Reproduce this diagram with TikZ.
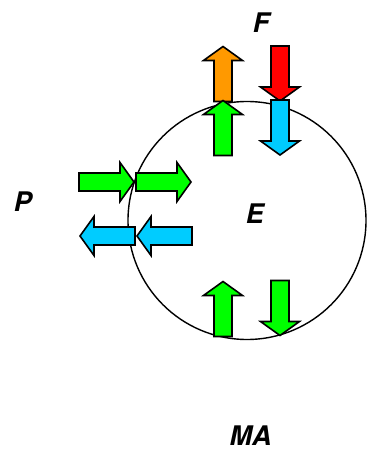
\documentclass[tikz,border=0pt]{standalone}
\usepackage{fontspec}
\setmainfont{TeX Gyre Heros}
\definecolor{cOrange}{RGB}{255,153,0}
\definecolor{cGreen}{RGB}{0,255,0}
\definecolor{cRed}{RGB}{255,0,0}
\definecolor{cBlue}{RGB}{0,204,255}
\tikzset{
  barrow/.pic={\path[draw=black, line width=1.6pt, line join=miter, pic actions]
     (0,-9)--(41,-9)--(41,-19.5)--(55,0)--(41,19.5)--(41,9)--(0,9)--cycle;},
  lbl/.style={font=\fontsize{27}{30}\selectfont\bfseries\itshape, inner sep=0pt},
}
\begin{document}
\begin{tikzpicture}[x=1pt,y=1pt]
\useasboundingbox (0,0) rectangle (371,450);
\fill[white] (0,0) rectangle (371,450);
\node[circle, draw=black, line width=1.4pt, minimum size=238pt, inner sep=0pt] (cell) at (247,229.5) {};
% top
\pic[rotate=90, fill=cOrange] at (223,348.5) {barrow};
\pic[rotate=90, fill=cGreen] at (223,294.5) {barrow};
\pic[rotate=-90, fill=cRed] at (280,404) {barrow};
\pic[rotate=-90, fill=cBlue] at (280,350) {barrow};
% left
\pic[fill=cGreen] at (79,268) {barrow};
\pic[fill=cGreen] at (136,268) {barrow};
\pic[rotate=180, fill=cBlue] at (135,214) {barrow};
\pic[rotate=180, fill=cBlue] at (192,214) {barrow};
% bottom
\pic[rotate=90, fill=cGreen] at (223,113.5) {barrow};
\pic[rotate=-90, fill=cGreen] at (280,169.5) {barrow};
% labels
\node[lbl] (F) at (261,427.5) {F};
\node[lbl] (P) at (23,248) {P};
\node[lbl] (E) at (255,236) {E};
\node[lbl, anchor=base] (MA) at (250.5,4.5) {MA};
\end{tikzpicture}
\end{document}
